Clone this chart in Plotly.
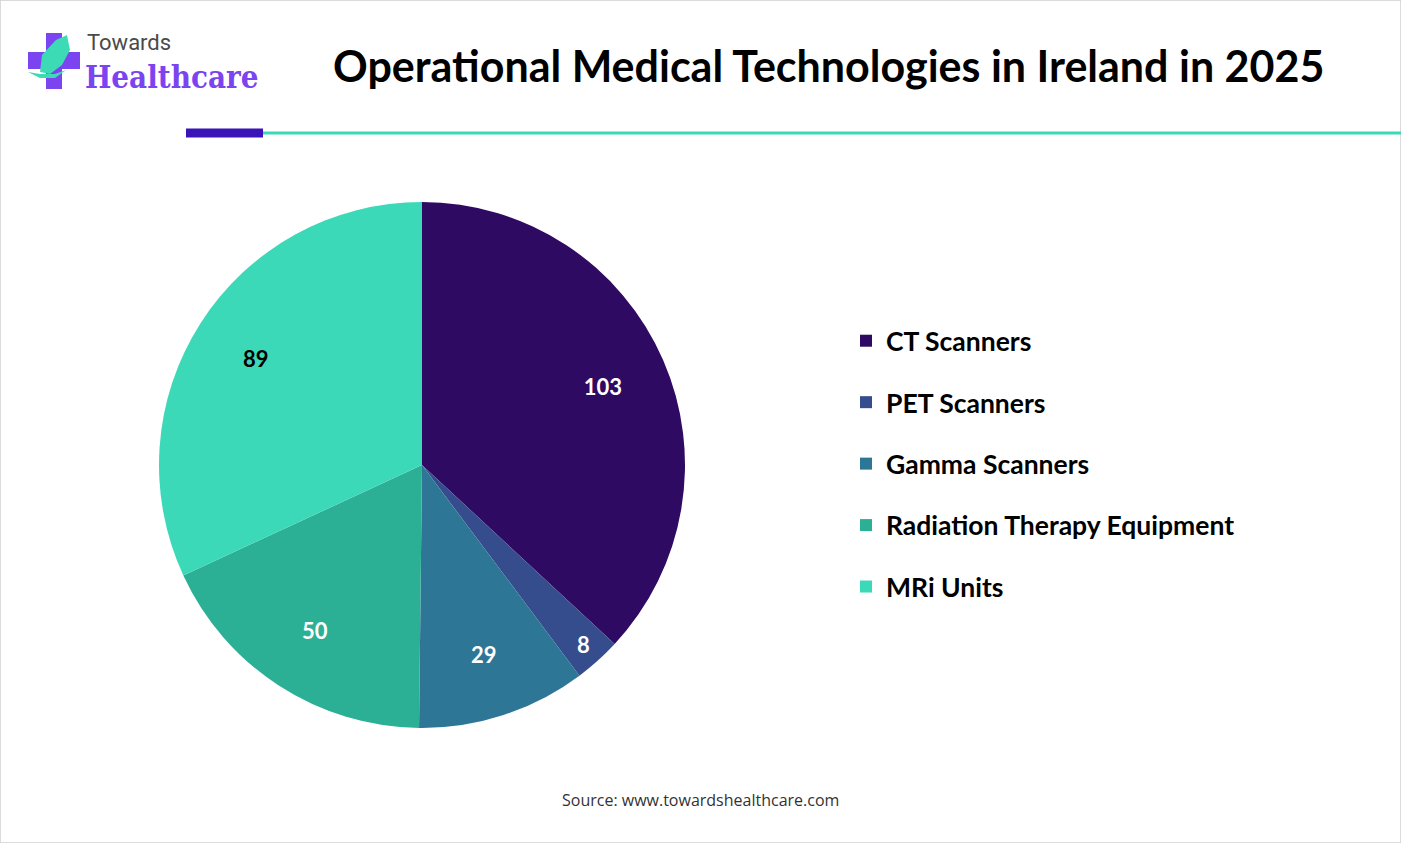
"""
Pie chart: operational medical technologies in Ireland, 2025.
"""

import plotly.graph_objects as go

# Chart data
LABELS = ['CT Scanners', 'PET Scanners', 'Gamma Scanners',
          'Radiation Therapy Equipment', 'MRi Units']
UNITS = [103, 8, 29, 50, 89]
COLORS = ['#2E0A63', '#354C8D', '#2E7696', '#2BB096', '#3CD9B9']
TEXT_COLORS = ['white', 'white', 'white', 'white', 'black']

TITLE = 'Operational Medical Technologies in Ireland in 2025'
SOURCE = 'Source: www.towardshealthcare.com'

W, H = 1401, 843
FONT = 'Lato'


def px_x(v):
    return v / W


def px_y(v):
    return 1 - v / H


def build_figure():
    fig = go.Figure()
    pie_domain = dict(x=[px_x(159), px_x(685)], y=[px_y(728), px_y(202)])

    # the slices
    fig.add_trace(go.Pie(
        labels=LABELS,
        values=UNITS,
        sort=False,
        direction='clockwise',
        rotation=0,
        marker=dict(colors=COLORS, line=dict(width=0)),
        textinfo='none',
        domain=pie_domain,
        showlegend=False,
        hoverinfo='label+value',
    ))

    # transparent ring on top, only to push the value labels outwards
    fig.add_trace(go.Pie(
        labels=LABELS,
        values=UNITS,
        sort=False,
        direction='clockwise',
        rotation=0,
        hole=0.5,
        marker=dict(colors=['rgba(0,0,0,0)'] * len(LABELS), line=dict(width=0)),
        textinfo='value',
        textposition='inside',
        insidetextorientation='horizontal',
        textfont=dict(family=FONT, size=22, color=TEXT_COLORS, weight='bold'),
        domain=pie_domain,
        showlegend=False,
        hoverinfo='skip',
    ))

    # legend entries, one group each so the gap between them can be set
    for name, color in zip(LABELS, COLORS):
        fig.add_trace(go.Scatter(
            x=[None], y=[None], mode='markers', name=name,
            legendgroup=name,
            marker=dict(symbol='square', size=15, color=color),
        ))

    shapes = [
        # page border
        dict(type='rect', xref='paper', yref='paper', x0=0, x1=1, y0=0, y1=1,
             line=dict(color='#D0D0D0', width=1.5)),
        # rule under the title
        dict(type='line', xref='paper', yref='paper',
             x0=px_x(263), x1=1, y0=px_y(133), y1=px_y(133),
             line=dict(color='#3CD9B9', width=3)),
        dict(type='line', xref='paper', yref='paper',
             x0=px_x(186), x1=px_x(263), y0=px_y(133), y1=px_y(133),
             line=dict(color='#3A14B8', width=9)),
        # logo cross
        dict(type='rect', xref='paper', yref='paper',
             x0=px_x(46), x1=px_x(62), y0=px_y(89), y1=px_y(33),
             fillcolor='#7B44F0', line=dict(width=0)),
        dict(type='rect', xref='paper', yref='paper',
             x0=px_x(28), x1=px_x(80), y0=px_y(69), y1=px_y(52),
             fillcolor='#7B44F0', line=dict(width=0)),
    ]

    # logo leaf, in paper coordinates
    leaf = [(40, 72), (42, 55), (56, 40), (67, 35), (70, 50), (62, 65), (50, 74)]
    path = 'M ' + ' L '.join(f'{px_x(a):.5f},{px_y(b):.5f}' for a, b in leaf) + ' Z'
    shapes.append(dict(type='path', xref='paper', yref='paper', path=path,
                       fillcolor='#3DDBB5', line=dict(width=0)))
    swoosh = [(28, 72), (40, 78), (55, 78), (66, 70), (55, 74), (40, 74)]
    path = 'M ' + ' L '.join(f'{px_x(a):.5f},{px_y(b):.5f}' for a, b in swoosh) + ' Z'
    shapes.append(dict(type='path', xref='paper', yref='paper', path=path,
                       fillcolor='#3DDBB5', line=dict(width=0)))

    annotations = [
        dict(text=TITLE, x=px_x(829), y=px_y(66), xref='paper', yref='paper',
             showarrow=False, xanchor='center', yanchor='middle',
             font=dict(family=FONT, size=43, color='black', weight='bold')),
        dict(text='Towards', x=px_x(85), y=px_y(43), xref='paper', yref='paper',
             showarrow=False, xanchor='left', yanchor='middle',
             font=dict(family='Roboto', size=22, color='#4A4A4A')),
        dict(text='<b>Healthcare</b>', x=px_x(83), y=px_y(77), xref='paper',
             yref='paper', showarrow=False, xanchor='left', yanchor='middle',
             font=dict(family='DejaVu Serif Condensed', size=31, color='#7B44F0')),
        dict(text=SOURCE, x=px_x(700), y=px_y(800), xref='paper', yref='paper',
             showarrow=False, xanchor='center', yanchor='middle',
             font=dict(family='Open Sans', size=16, color='#333333')),
    ]

    fig.update_layout(
        width=W, height=H,
        margin=dict(l=0, r=0, t=0, b=0),
        paper_bgcolor='white',
        plot_bgcolor='white',
        xaxis=dict(visible=False),
        yaxis=dict(visible=False),
        shapes=shapes,
        annotations=annotations,
        legend=dict(
            x=px_x(846), y=px_y(317), xanchor='left', yanchor='top',
            font=dict(family=FONT, size=26.5, color='black', weight='bold'),
            tracegroupgap=24, itemsizing='constant',
            bgcolor='rgba(0,0,0,0)',
        ),
    )
    return fig


def main():
    fig = build_figure()
    # drop the page's default body margin so the chart sits at 0,0
    fig.write_html('out.html', config={'displayModeBar': False},
                   post_script="document.body.style.margin='0';")


if __name__ == '__main__':
    main()
